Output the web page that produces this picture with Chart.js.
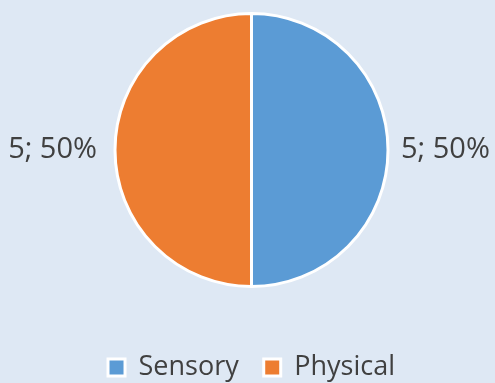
<!DOCTYPE html>
<html>
<head>
<meta charset="utf-8">
<script src="https://cdn.jsdelivr.net/npm/chart.js@4.4.0/dist/chart.umd.min.js"></script>
<style>
  html, body { margin: 0; padding: 0; background: #dee8f4; }
  #wrap { width: 495px; height: 383px; }
</style>
</head>
<body>
<div id="wrap"><canvas id="pieChart" width="495" height="383"></canvas></div>
<script>
// Datos del gráfico
const categorias = ["Sensory", "Physical"];
const valores = [5, 5];
const colores = ["#5b9bd5", "#ed7d31"];

// Etiquetas "valor; porcentaje" fuera de cada sector
const etiquetasFuera = {
  id: "etiquetasFuera",
  afterDatasetsDraw(chart) {
    const ctx = chart.ctx;
    const meta = chart.getDatasetMeta(0);
    const total = valores.reduce((a, b) => a + b, 0);
    ctx.save();
    ctx.font = "29px 'Open Sans'";
    ctx.fillStyle = "#404040";
    ctx.textBaseline = "middle";
    meta.data.forEach((arc, i) => {
      const p = arc.getProps(["x", "y", "startAngle", "endAngle", "outerRadius"], true);
      const ang = (p.startAngle + p.endAngle) / 2;
      const derecha = Math.cos(ang) >= 0;
      const r = p.outerRadius + (derecha ? 13 : 18);
      const x = p.x + Math.cos(ang) * r;
      const y = p.y + Math.sin(ang) * r;
      ctx.textAlign = derecha ? "left" : "right";
      const pct = Math.round((valores[i] / total) * 100);
      ctx.fillText(valores[i] + "; " + pct + "%", x, y);
    });
    ctx.restore();
  },
};

const ctx = document.getElementById("pieChart");
new Chart(ctx, {
  type: "pie",
  data: {
    labels: categorias,
    datasets: [
      {
        data: valores,
        backgroundColor: colores,
        borderColor: "#ffffff",
        borderWidth: 3,
      },
    ],
  },
  options: {
    responsive: false,
    animation: false,
    layout: { padding: { top: 12, bottom: -8, left: 8, right: 0 } },
    plugins: {
      tooltip: { enabled: false },
      legend: {
        position: "bottom",
        // título vacío para separar la leyenda del pastel
        title: {
          display: true,
          text: " ",
          color: "rgba(0,0,0,0)",
          font: { size: 1, lineHeight: 1 },
          padding: { top: 0, bottom: 40 },
        },
        labels: {
          color: "#404040",
          font: { family: "'Open Sans'", size: 27, lineHeight: 1 },
          boxWidth: 17,
          boxHeight: 17,
          padding: 25,
        },
      },
    },
  },
  plugins: [etiquetasFuera],
});
</script>
</body>
</html>
